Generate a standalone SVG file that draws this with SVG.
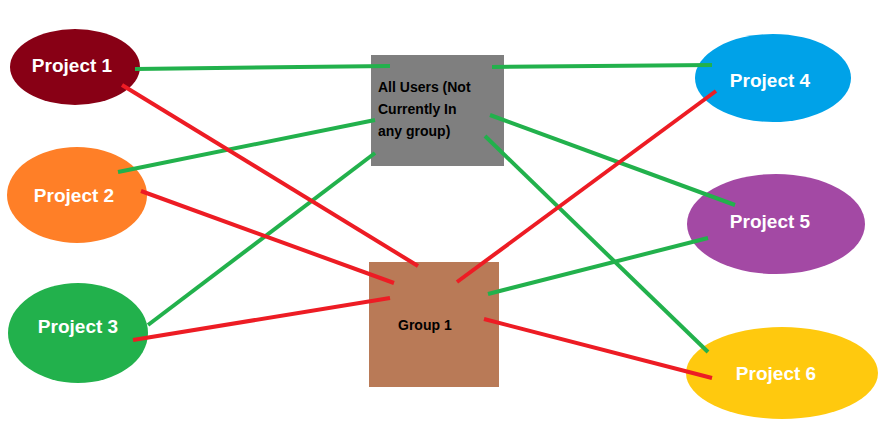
<svg xmlns="http://www.w3.org/2000/svg" width="890" height="440" viewBox="0 0 890 440">
<style>
.pt{font-family:"Liberation Sans",Arial,sans-serif;font-weight:bold;font-size:19px;fill:#fff;text-anchor:middle}
.bt{font-family:"Liberation Sans",Arial,sans-serif;font-weight:bold;font-size:14px;fill:#000}
.g{stroke:#22B14C;stroke-width:4;fill:none}
.r{stroke:#ED1C24;stroke-width:4;fill:none}
</style>
<rect width="890" height="440" fill="#fff"/>
<g id="allusers"><rect x="371" y="55" width="133" height="111" fill="#7F7F7F"/>
<text class="bt" x="378" y="92">All Users  (Not</text><text class="bt" x="378" y="114">Currently In</text><text class="bt" x="378" y="136">any group)</text></g>
<g id="group1"><rect x="369" y="262" width="130" height="125" fill="#B97A57"/>
<text class="bt" x="398" y="330">Group 1</text></g>
<g id="p1"><ellipse cx="75" cy="67" rx="65" ry="38" fill="#880015"/><text class="pt" x="72" y="72">Project 1</text></g>
<g id="p2"><ellipse cx="77" cy="195" rx="70" ry="48" fill="#FF7F27"/><text class="pt" x="74" y="202">Project 2</text></g>
<g id="p3"><ellipse cx="78" cy="333" rx="70" ry="50" fill="#22B14C"/><text class="pt" x="78" y="333">Project 3</text></g>
<g id="p4"><ellipse cx="773" cy="78" rx="78" ry="44" fill="#00A2E8"/><text class="pt" x="770" y="87">Project 4</text></g>
<g id="p5"><ellipse cx="776" cy="224" rx="89" ry="50" fill="#A349A4"/><text class="pt" x="770" y="228">Project 5</text></g>
<g id="p6"><ellipse cx="782" cy="373" rx="96" ry="46" fill="#FFC90E"/><text class="pt" x="776" y="380">Project 6</text></g>
<g id="connectors">
<line class="g" x1="135" y1="69" x2="390" y2="66"/>
<line class="g" x1="492" y1="67" x2="712" y2="65"/>
<line class="g" x1="118" y1="172" x2="375" y2="120"/>
<line class="g" x1="148" y1="325" x2="375" y2="153"/>
<line class="g" x1="490" y1="115" x2="735" y2="205"/>
<line class="g" x1="485" y1="136" x2="708" y2="352"/>
<line class="g" x1="488" y1="294" x2="708" y2="238"/>
<line class="r" x1="122" y1="85" x2="418" y2="266"/>
<line class="r" x1="141" y1="191" x2="394" y2="283"/>
<line class="r" x1="133" y1="340" x2="390" y2="298"/>
<line class="r" x1="457" y1="282" x2="716" y2="91"/>
<line class="r" x1="484" y1="319" x2="712" y2="378"/>
</g>
</svg>
